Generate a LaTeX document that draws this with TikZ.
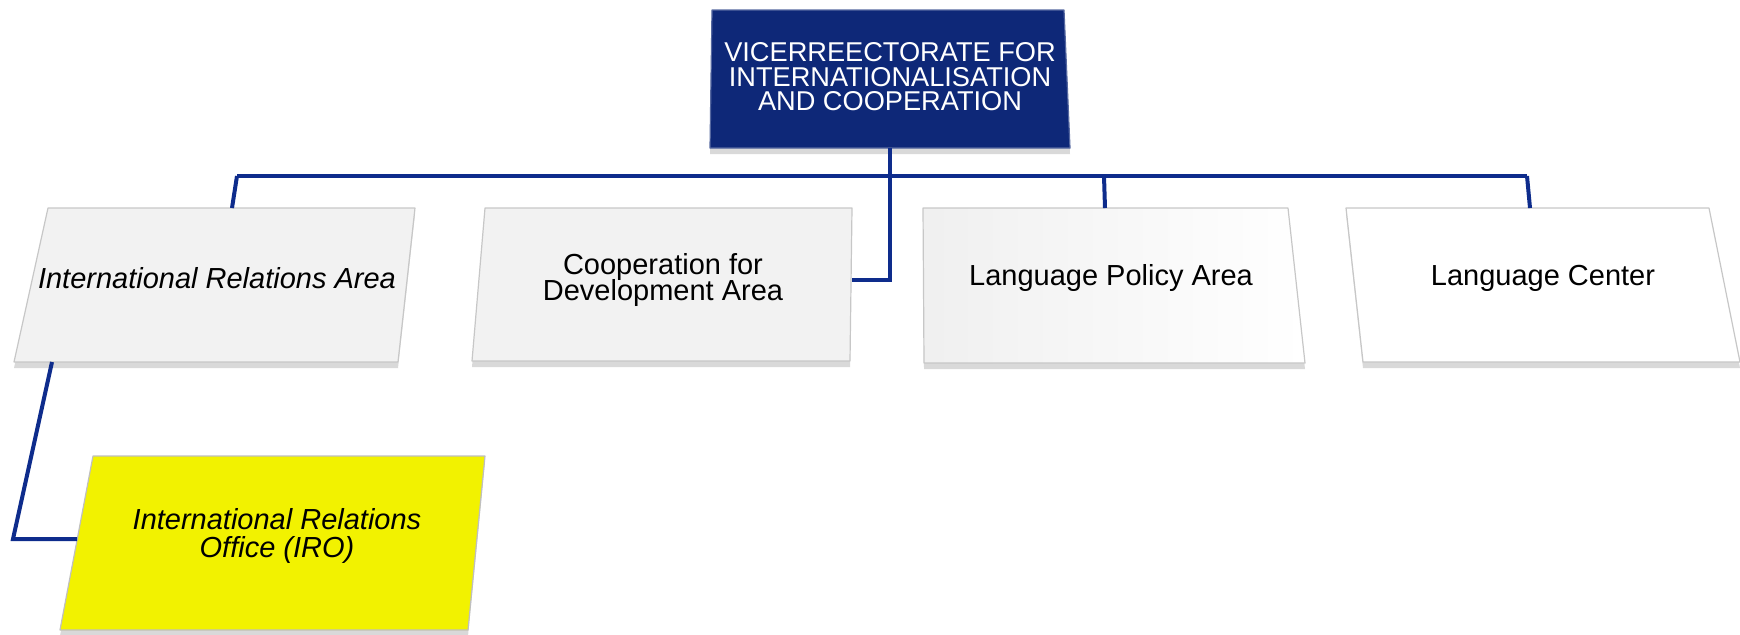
\documentclass[tikz,border=0pt]{standalone}
\usepackage{fontspec}
\setmainfont{Liberation Sans}
\usetikzlibrary{shadows}

\definecolor{vicenavy}{RGB}{14,40,120}
\definecolor{linenavy}{RGB}{14,44,140}
\definecolor{iroyellow}{RGB}{242,242,0}
\definecolor{areagray}{RGB}{242,242,242}

\newcommand{\orgtight}{\lineskiplimit=-20pt\relax}

\tikzset{
  orgbox/.style={draw=black!22, line width=0.6pt, line join=round,
    drop shadow={opacity=0.3, shadow xshift=0pt, shadow yshift=-3pt}},
  orgline/.style={linenavy, line width=2pt},
  orgtext/.style={font=\fontsize{14.5}{13}\selectfont\orgtight, align=center, text=black},
}

\begin{document}
\begin{tikzpicture}[x=0.5pt, y=-0.5pt]

\useasboundingbox (0,0) rectangle (1740,634);

% Vicerreectorate (top)
\filldraw [orgbox, fill=vicenavy, draw=vicenavy!70!white] (712,10) -- (1064,10) -- (1070,148) -- (710,148) -- cycle;
\node [orgtext, text=white, font=\fontsize{13.6}{12.3}\selectfont\orgtight] (vice) at (890,77)
  {VICERREECTORATE FOR\\INTERNATIONALISATION\\AND COOPERATION};
\coordinate (viceS) at (890,148);

% Areas
\filldraw [orgbox, fill=areagray] (48,208) -- (415,208) -- (398,362) -- (14,362) -- cycle;
\node [orgtext, font=\fontsize{14.5}{13}\selectfont\itshape] (ira) at (217,278) {International Relations Area};
\coordinate (iraN) at (232,208);
\coordinate (iraS) at (52,362);

\filldraw [orgbox, fill=areagray] (485,208) -- (852,208) -- (850,361) -- (472,361) -- cycle;
\node [orgtext] (coop) at (663,280) {Cooperation for\\Development Area};
\coordinate (coopE) at (852,280);

\path [orgbox, left color=black!6, right color=white] (923,208) -- (1288,208) -- (1305,363) -- (924,363) -- cycle;
\node [orgtext] (lpa) at (1111,278) {Language Policy Area};
\coordinate (lpaN) at (1105,208);

\filldraw [orgbox, fill=white] (1346,208) -- (1709,208) -- (1740,362) -- (1363,362) -- cycle;
\node [orgtext] (lc) at (1543,278) {Language Center};
\coordinate (lcN) at (1530,208);

% IRO
\filldraw [orgbox, fill=iroyellow, draw=black!25] (93,456) -- (485,456) -- (468,630) -- (60,630) -- cycle;
\node [orgtext, font=\fontsize{14.5}{14}\selectfont\orgtight\itshape] (iro) at (277,536) {International Relations\\Office (IRO)};
\coordinate (iroW) at (77,539);

% Connectors
\coordinate (busL) at (237,176);
\coordinate (busR) at (1527,176);
\draw [orgline] (busL) -- (busR);
\draw [orgline] (viceS) -- (890,280) -- (coopE);
\draw [orgline] (busL) -- (iraN);
\draw [orgline] (1104,176) -- (lpaN);
\draw [orgline] (busR) -- (lcN);
\draw [orgline] (iraS) -- (13,539) -- (iroW);

\end{tikzpicture}
\end{document}
